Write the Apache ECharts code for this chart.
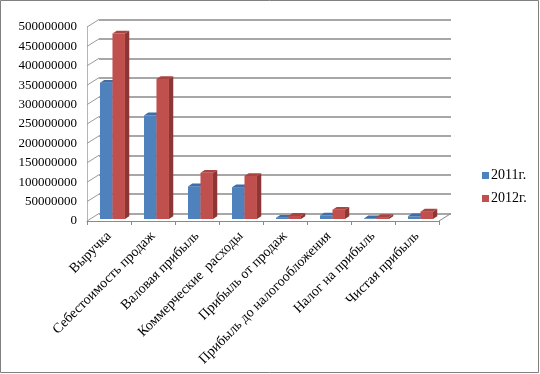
<!DOCTYPE html>
<html><head><meta charset="utf-8">
<script src="https://cdn.jsdelivr.net/npm/echarts@6/dist/echarts.min.js"></script>
<style>html,body{margin:0;padding:0;background:#fff}#c{width:540px;height:374px}</style>
</head><body><div id="c"></div>
<script>
const categories = ['Выручка', 'Себестоимость продаж', 'Валовая прибыль', 'Коммерческие  расходы',
  'Прибыль от продаж', 'Прибыль до налогообложения', 'Налог на прибыль', 'Чистая прибыль'];
const seriesNames = ['2011г.', '2012г.'];
const values2011 = [351000000, 267000000, 84000000, 82000000, 3000000, 9000000, 1500000, 7000000];
const values2012 = [478000000, 361000000, 119000000, 111000000, 8000000, 24000000, 5000000, 19000000];
const yMin = 0, yMax = 500000000, yStep = 50000000;

const FONT = '"Liberation Serif", "Times New Roman", serif';
const DX = 12, DY = -7.5;          // depth of the 3D box
const BAR_SHIFT_Y = -2;            // bars sit slightly back from the front plane
const SX = 4.3, SY = -2.8;         // bar depth
const colors = [
  {front: '#4F81BD', top: '#3F6DA6', side: '#365F91'},
  {front: '#C0504D', top: '#AA4441', side: '#8C3735'}
];

const gLeft = 87, gTop = 27, gW = 352, gH = 194;

function barRenderer(si) {
  return function (params, api) {
    const i = api.value(0), v = api.value(1);
    const top = api.coord([i, v]);
    const base = api.coord([i, 0]);
    const w = api.size([1, 0])[0];
    const bw = w * 0.284;
    const x0 = top[0] - w * 0.205 + si * bw;
    const x1 = x0 + bw;
    const yt = top[1] + BAR_SHIFT_Y;
    const yb = base[1] + BAR_SHIFT_Y;
    const c = colors[si];
    return {
      type: 'group',
      children: [
        {type: 'polygon', shape: {points: [[x1, yt], [x1 + SX, yt + SY], [x1 + SX, yb + SY], [x1, yb]]}, style: {fill: c.side}},
        {type: 'rect', shape: {x: x0, y: yt, width: bw, height: yb - yt}, style: {fill: c.front}},
        {type: 'polygon', shape: {points: [[x0, yt], [x1, yt], [x1 + SX, yt + SY], [x0 + SX, yt + SY]]}, style: {fill: c.top}}
      ]
    };
  };
}

function frameRenderer(params, api) {
  const w = api.size([1, 0])[0];
  const left = api.coord([0, 0])[0] - w / 2;
  const right = api.coord([categories.length - 1, 0])[0] + w / 2;
  const y0 = api.coord([0, 0])[1];
  const children = [];
  for (let v = yMin; v <= yMax; v += yStep) {
    const y = api.coord([0, v])[1];
    children.push({type: 'line', shape: {x1: left, y1: y, x2: left + DX, y2: y + DY},
      style: {stroke: '#9a9a9a', lineWidth: 1}});
  }
  children.push({type: 'line', shape: {x1: right, y1: y0, x2: right + DX, y2: y0 + DY},
    style: {stroke: '#8a8a8a', lineWidth: 1}});
  return {type: 'group', children: children};
}

const chart = echarts.init(document.getElementById('c'), null, {renderer: 'canvas'});
chart.setOption({
  backgroundColor: '#fff',
  animation: false,
  textStyle: {fontFamily: FONT},
  graphic: [{type: 'rect', shape: {x: 0.5, y: 0.5, width: 538, height: 372},
    style: {fill: 'none', stroke: '#808080', lineWidth: 1}, z: 100}],
  legend: {
    data: seriesNames, orient: 'vertical', left: 477, top: 163,
    icon: 'rect', itemWidth: 7, itemHeight: 7, itemGap: 8,
    textStyle: {fontFamily: FONT, fontSize: 14, color: '#000', lineHeight: 15, padding: [0, 0, 0, -3]}
  },
  grid: [
    {left: gLeft + DX, top: gTop + DY, width: gW, height: gH},
    {left: gLeft, top: gTop, width: gW, height: gH}
  ],
  xAxis: [
    {gridIndex: 0, type: 'category', data: categories, show: false},
    {gridIndex: 1, type: 'category', data: categories,
      axisLine: {lineStyle: {color: '#8a8a8a'}},
      axisTick: {show: true, length: 4, lineStyle: {color: '#8a8a8a'}},
      axisLabel: {rotate: 45, margin: 13, interval: 0, fontFamily: FONT, fontSize: 14, color: '#000'}}
  ],
  yAxis: [
    {gridIndex: 0, type: 'value', min: yMin, max: yMax, interval: yStep,
      axisLine: {show: false}, axisTick: {show: false}, axisLabel: {show: false},
      splitLine: {show: true, lineStyle: {color: '#8a8a8a', width: 1.5}}},
    {gridIndex: 1, type: 'value', min: yMin, max: yMax, interval: yStep,
      axisLine: {show: true, lineStyle: {color: '#b5b5b5'}}, axisTick: {show: false},
      splitLine: {show: false},
      axisLabel: {margin: 10, fontFamily: FONT, fontSize: 13, color: '#000',
        formatter: v => String(v)}}
  ],
  series: [
    {type: 'custom', name: 'frame', xAxisIndex: 1, yAxisIndex: 1, renderItem: frameRenderer,
      data: [[0, 0]], silent: true, clip: false, z: 1},
    {type: 'custom', name: seriesNames[0], xAxisIndex: 1, yAxisIndex: 1, renderItem: barRenderer(0),
      itemStyle: {color: colors[0].front}, clip: false, z: 3,
      data: values2011.map((v, i) => [i, v])},
    {type: 'custom', name: seriesNames[1], xAxisIndex: 1, yAxisIndex: 1, renderItem: barRenderer(1),
      itemStyle: {color: colors[1].front}, clip: false, z: 4,
      data: values2012.map((v, i) => [i, v])}
  ]
});
</script></body></html>
